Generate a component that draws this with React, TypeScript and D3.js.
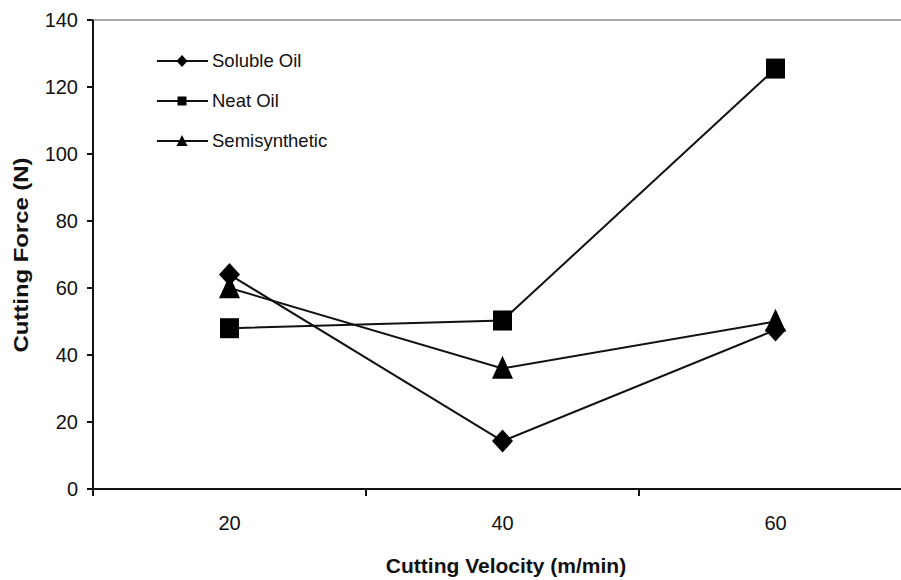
import * as d3 from 'd3';

// cutting velocity (m/min) categories and force readings (N)
const velocities = ['20', '40', '60'];
const solubleOil = [64, 14.3, 47.5];
const neatOil = [48, 50.3, 125.5];
const semisynthetic = [60, 36, 50];
const yTicks = [0, 20, 40, 60, 80, 100, 120, 140];

const seriesList = [
  { name: 'Soluble Oil', values: solubleOil, marker: 'diamond' },
  { name: 'Neat Oil', values: neatOil, marker: 'square' },
  { name: 'Semisynthetic', values: semisynthetic, marker: 'triangle' },
];

const W = 901;
const H = 580;
const left = 93;
const right = 912; // plot runs past the picture edge, as in the original
const top = 20;
const bottom = 489;
const font = '"Liberation Sans", Arial, sans-serif';

// w = width of marker, h = height
function markerPath(kind: string, w: number, h: number) {
  const p = d3.path();
  if (kind === 'diamond') {
    p.moveTo(0, -h / 2);
    p.lineTo(w / 2, 0);
    p.lineTo(0, h / 2);
    p.lineTo(-w / 2, 0);
  } else if (kind === 'square') {
    p.rect(-w / 2, -h / 2, w, h);
  } else {
    p.moveTo(0, -h * 0.55);
    p.lineTo(w / 2, h * 0.45);
    p.lineTo(-w / 2, h * 0.45);
  }
  p.closePath();
  return p.toString();
}

const bigSize: Record<string, [number, number]> = {
  diamond: [21, 23],
  square: [19, 20],
  triangle: [21, 23],
};
const smallSize: Record<string, [number, number]> = {
  diamond: [11, 12],
  square: [9, 9],
  triangle: [11, 11],
};

function Marker({ kind, x, y, dims }: { kind: string; x: number; y: number; dims: [number, number] }) {
  return <path d={markerPath(kind, dims[0], dims[1])} transform={`translate(${x},${y})`} fill="#000" />;
}

export default function App() {
  const x = d3.scaleBand().domain(velocities).range([left, right]).padding(0);
  const y = d3.scaleLinear().domain([0, 140]).range([bottom, top]);
  const cx = (v: string) => (x(v) ?? 0) + x.bandwidth() / 2;

  const line = d3
    .line<number>()
    .x((_, i) => cx(velocities[i]))
    .y((d) => y(d));

  const boundaries = velocities.map((v) => x(v) ?? 0);

  return (
    <svg
      width={W}
      height={H}
      style={{ position: 'absolute', left: 0, top: 0, background: '#fff' }}
      fontFamily={font}
    >
      <rect x={0} y={0} width={W} height={H} fill="#fff" />
      {/* plot border (only top edge shows) */}
      <line x1={left} x2={W} y1={top} y2={top} stroke="#8c8c8c" strokeWidth={1.5} />

      {/* y axis */}
      <line x1={left} x2={left} y1={top} y2={bottom} stroke="#111" strokeWidth={2} />
      {yTicks.map((t) => (
        <g key={t}>
          <line x1={left - 6} x2={left} y1={y(t)} y2={y(t)} stroke="#111" strokeWidth={2} />
          <text x={left - 15} y={y(t)} dy="0.35em" textAnchor="end" fontSize={20} fill="#111">
            {t}
          </text>
        </g>
      ))}

      {/* x axis */}
      <line x1={left} x2={W} y1={bottom} y2={bottom} stroke="#111" strokeWidth={2} />
      {boundaries.map((b, i) => (
        <line key={i} x1={b} x2={b} y1={bottom} y2={bottom + 7} stroke="#111" strokeWidth={2} />
      ))}
      {velocities.map((v) => (
        <text key={v} x={cx(v)} y={530} textAnchor="middle" fontSize={20} fill="#111">
          {v}
        </text>
      ))}

      {/* axis titles */}
      <text x={506} y={573} textAnchor="middle" fontSize={21} fontWeight="bold" fill="#111">
        Cutting Velocity (m/min)
      </text>
      <text
        transform="translate(28,255) rotate(-90)"
        textAnchor="middle"
        fontSize={21}
        fontWeight="bold"
        fill="#111"
        textLength={195}
        lengthAdjust="spacingAndGlyphs"
      >
        Cutting Force (N)
      </text>

      {/* series */}
      {seriesList.map((s) => (
        <g key={s.name}>
          <path d={line(s.values) || ''} fill="none" stroke="#111" strokeWidth={2} />
          {s.values.map((v, i) => (
            <Marker key={i} kind={s.marker} x={cx(velocities[i])} y={y(v)} dims={bigSize[s.marker]} />
          ))}
        </g>
      ))}

      {/* legend */}
      {seriesList.map((s, i) => {
        const ly = 61 + i * 40;
        return (
          <g key={s.name}>
            <line x1={157} x2={208} y1={ly} y2={ly} stroke="#111" strokeWidth={2} />
            <Marker kind={s.marker} x={182} y={ly} dims={smallSize[s.marker]} />
            <text x={212} y={ly} dy="0.35em" fontSize={18.5} fill="#111">
              {s.name}
            </text>
          </g>
        );
      })}
    </svg>
  );
}
